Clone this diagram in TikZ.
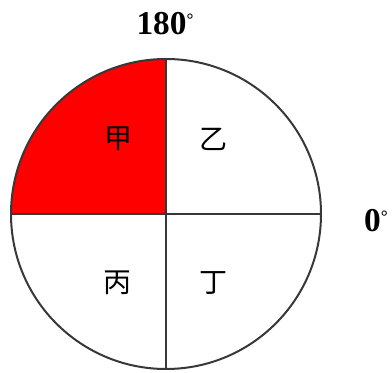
\documentclass[tikz,border=0pt]{standalone}
\usepackage{fontspec}
\setmainfont{Liberation Serif}
\newfontfamily\cjk{Noto Sans CJK SC}
\newcommand{\degmark}{\raisebox{0.28em}{\fontsize{13}{13}\selectfont°}}
\begin{document}
\begin{tikzpicture}[x=0.75pt,y=-0.75pt]
  \tikzset{
    rim/.style={line width=1.5pt, draw=black!78},
    quarter/.style={font=\cjk\fontsize{21}{21}\selectfont},
    angle/.style={font=\bfseries\fontsize{25}{25}\selectfont}
  }
  \useasboundingbox (0,0) rectangle (392,373);

  \coordinate (O) at (166,214);
  \coordinate (west) at (11,214);
  \coordinate (east) at (321,214);
  \coordinate (north) at (166,59);
  \coordinate (south) at (166,369);

  % red quarter
  \fill[red] (O) -- (west) arc[start angle=180, end angle=270, radius=155] -- cycle;

  \draw[rim] (O) circle[radius=155];
  \draw[rim] (west) -- (east);
  \draw[rim] (north) -- (south);

  \node[quarter] (jia) at (118,139) {甲};
  \node[quarter] (yi) at (213,139) {乙};
  \node[quarter] (bing) at (117,283) {丙};
  \node[quarter] (ding) at (213,283) {丁};

  \node[angle] (top) at (165,24) {180\degmark};
  \node[angle] (zero) at (376,221) {0\degmark};
\end{tikzpicture}
\end{document}
